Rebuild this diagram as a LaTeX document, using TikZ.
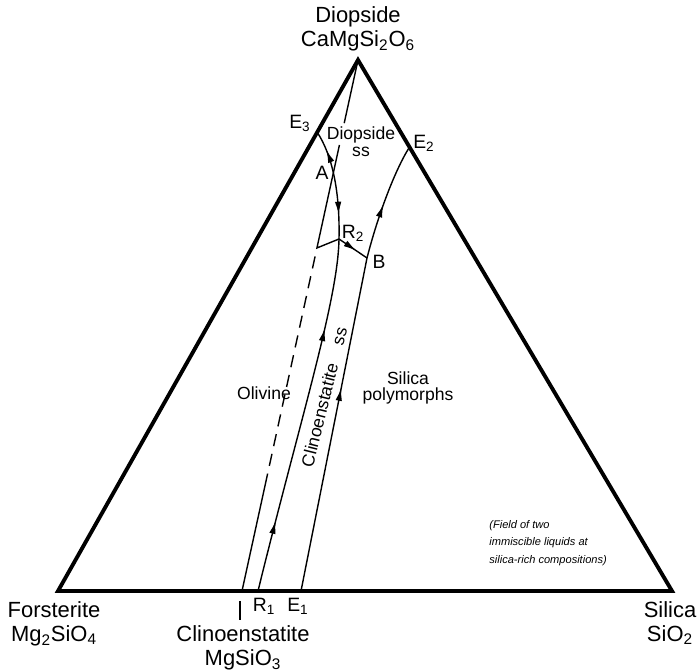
\documentclass[tikz,border=0pt]{standalone}
\usepackage{fontspec}
\setmainfont{Liberation Sans}
\usepackage{tikz}
\usetikzlibrary{arrows.meta,calc,decorations.markings}

\tikzset{
  rand/.style={line width=2.2pt},
  grenze/.style={line width=0.8pt},
  spitze/.style={postaction={decorate},decoration={markings,
    mark=at position #1 with {\arrow{Latex[length=2.6mm,width=1.3mm]}}}},
  ecke/.style={font=\fontsize{12.5}{13.5}\selectfont,align=center,inner sep=0pt},
  feld/.style={font=\fontsize{10}{9.5}\selectfont,align=center,inner sep=0pt},
  punkt/.style={font=\fontsize{11}{12}\selectfont,inner sep=0pt},
}

\begin{document}
\begin{tikzpicture}[>=Latex,x=0.02cm,y=-0.02cm]
  \useasboundingbox (0,0) rectangle (700,671);
  % Eckpunkte und Punkte auf den Kanten
  \coordinate (Di) at (358,60);
  \coordinate (Fo) at (58,591);
  \coordinate (Si) at (672,591);
  \coordinate (En) at (242,591);
  \coordinate (R1) at (258,591);
  \coordinate (E1) at (301,591);
  \coordinate (E3) at ($(Di)!0.136!(Fo)$);
  \coordinate (E2) at ($(Di)!0.164!(Si)$);
  \coordinate (R2) at (339,239);
  \coordinate (B) at (367,258);
  \coordinate (K) at ($(Di)!0.354!(En)$);
  % Dreieck
  \draw[rand] (Di) -- (Fo) -- (Si) -- cycle;
  % Verbindung Di--En (unterbrochen an der Beschriftung, unten gestrichelt)
  \draw[grenze] (Di) -- ($(Di)!0.119!(En)$);
  \draw[grenze] ($(Di)!0.16!(En)$) -- (K) -- (R2);
  \draw[grenze,dash pattern=on 7pt off 4.5pt] ($(Di)!0.37!(En)$) -- ($(Di)!0.8!(En)$);
  \draw[grenze] ($(Di)!0.8!(En)$) -- (En);
  \draw[grenze] ($(En)+(-2,10)$) -- ($(En)+(-2,29)$);
  % kotektische Linien mit Pfeilen
  \draw[grenze,postaction={decorate},decoration={markings,
    mark=at position 0.18 with {\arrowreversed{Latex[length=2.6mm,width=1.3mm]}},
    mark=at position 0.78 with {\arrow{Latex[length=2.6mm,width=1.3mm]}}}]
    (E3) .. controls (332,155) and (340,190) .. (R2);
  \draw[grenze,postaction={decorate},decoration={markings,
    mark=at position 0.2 with {\arrow{Latex[length=2.6mm,width=1.3mm]}},
    mark=at position 0.75 with {\arrow{Latex[length=2.6mm,width=1.3mm]}}}]
    (R1) .. controls (300,420) and (338,300) .. (R2);
  \draw[grenze,spitze=0.62] (R2) -- (B);
  \draw[grenze,spitze=0.61] (E1) -- (B);
  \draw[grenze,spitze=0.47] (B) .. controls (378,215) and (395,170) .. (E2);
  % Beschriftung der Ecken
  \node[ecke] (diL) at (358,29) {Diopside\\CaMgSi\textsubscript{2}O\textsubscript{6}};
  \node[ecke] (foL) at (54,624) {Forsterite\\Mg\textsubscript{2}SiO\textsubscript{4}};
  \node[ecke] (siL) at (670,623) {Silica\\SiO\textsubscript{2}};
  \node[ecke] (enL) at (243,648) {Clinoenstatite\\MgSiO\textsubscript{3}};
  % Felder
  \node[feld] (diss) at (361,142) {Diopside\\ss};
  \node[feld] (ol) at (264,393) {Olivine};
  \node[feld] (sp) at (408,388) {Silica\\polymorphs};
  \node[feld,rotate=76] (cen) at (324,397) {Clinoenstatite\hspace{1.1em}ss};
  \node[font=\itshape\fontsize{6.3}{10}\selectfont,align=left,anchor=west,inner sep=0pt]
    (mis) at (489,543) {(Field of two\\immiscible liquids at\\silica-rich compositions)};
  % Punkte
  \node[punkt] (lE3) at (300,123) {E\textsubscript{3}};
  \node[punkt] (lE2) at (424,143) {E\textsubscript{2}};
  \node[punkt] (lA) at (322,173) {A};
  \node[punkt] (lR2) at (353,233) {R\textsubscript{2}};
  \node[punkt] (lB) at (379,262) {B};
  \node[punkt] (lR1) at (264,606) {R\textsubscript{1}};
  \node[punkt] (lE1) at (298,606) {E\textsubscript{1}};
\end{tikzpicture}
\end{document}
